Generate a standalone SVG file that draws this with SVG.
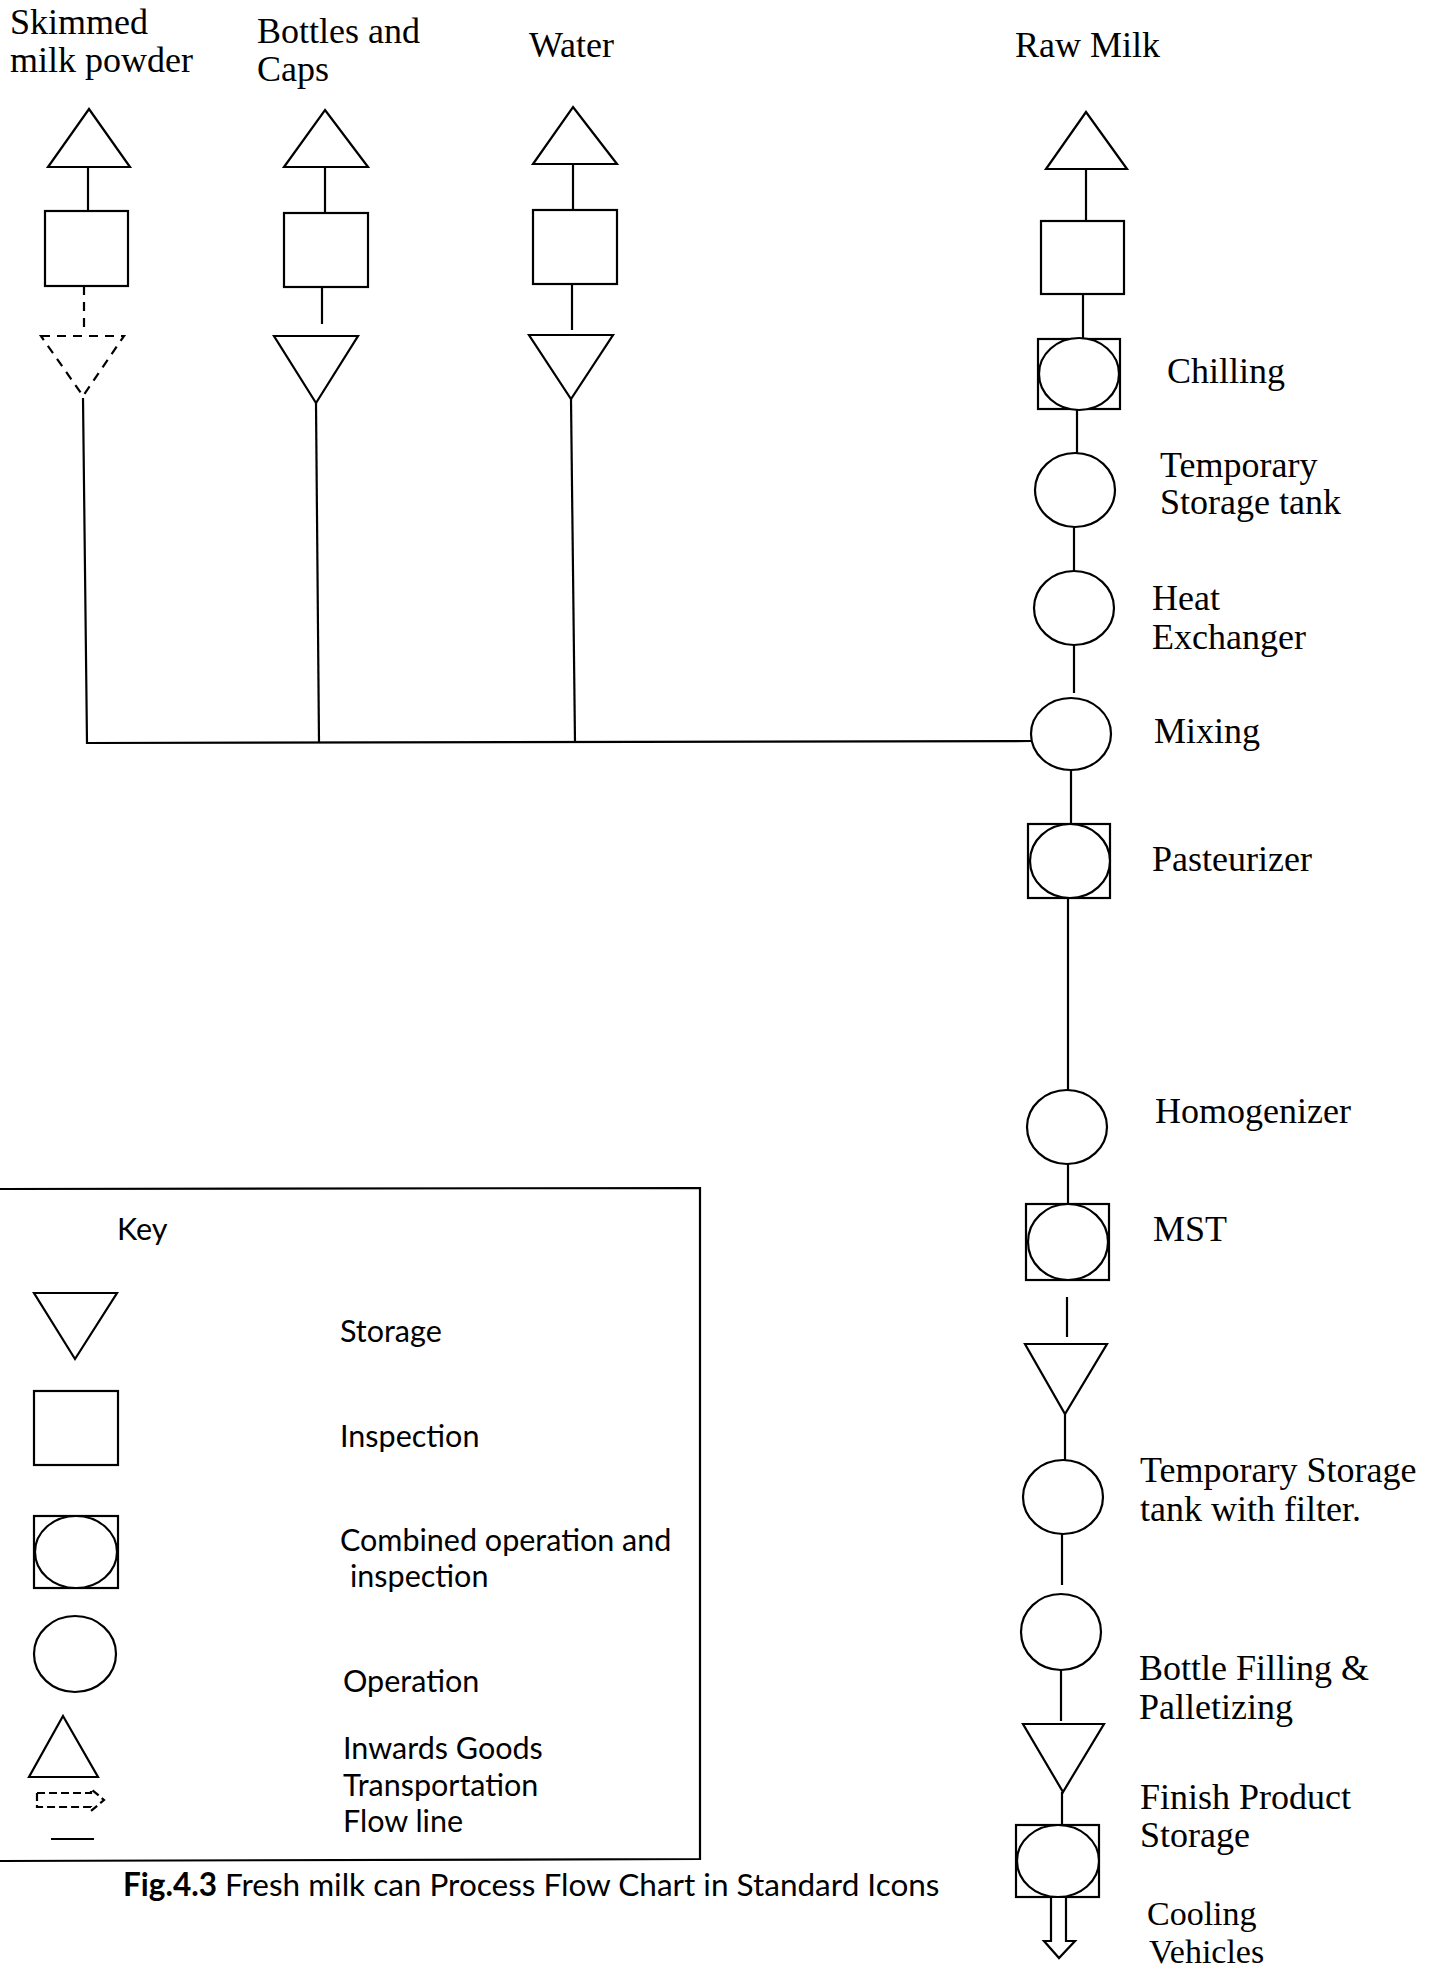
<svg xmlns="http://www.w3.org/2000/svg" width="1444" height="1968" viewBox="0 0 1444 1968">
<style>
.s{fill:#fff;stroke:#000;stroke-width:2.2}
.ln{stroke:#000;stroke-width:2.2;fill:none}
.d{stroke-dasharray:9 7}
.t{font-family:"Liberation Serif","Times New Roman",serif;font-size:36px;fill:#000}
.k{font-family:Lato,"Liberation Sans",sans-serif;font-size:30.5px;fill:#000}
.cap{font-family:Lato,"Liberation Sans",sans-serif;font-size:31.5px;fill:#000}
</style>
<rect width="1444" height="1968" fill="#fff"/>

<g id="connectors">
<line class="ln" x1="88" y1="167" x2="88" y2="211"/>
<line class="ln d" x1="84" y1="286" x2="84" y2="330"/>
<polyline class="ln" points="83,398 87,743 1031,741"/>
<line class="ln" x1="325" y1="167" x2="325" y2="213"/>
<line class="ln" x1="322" y1="287" x2="322" y2="324"/>
<line class="ln" x1="316" y1="403" x2="319" y2="742"/>
<line class="ln" x1="573" y1="164" x2="573" y2="210"/>
<line class="ln" x1="572" y1="284" x2="572" y2="330"/>
<line class="ln" x1="571" y1="399" x2="575" y2="742"/>
<line class="ln" x1="1086" y1="169" x2="1086" y2="221"/>
<line class="ln" x1="1083" y1="294" x2="1083" y2="339"/>
<line class="ln" x1="1077" y1="409" x2="1077" y2="453"/>
<line class="ln" x1="1074" y1="527" x2="1074" y2="572"/>
<line class="ln" x1="1074" y1="645" x2="1074" y2="693"/>
<line class="ln" x1="1071" y1="770" x2="1071" y2="824"/>
<line class="ln" x1="1068" y1="898" x2="1068" y2="1090"/>
<line class="ln" x1="1068" y1="1164" x2="1068" y2="1204"/>
<line class="ln" x1="1067" y1="1297" x2="1067" y2="1337"/>
<line class="ln" x1="1065" y1="1414" x2="1065" y2="1460"/>
<line class="ln" x1="1062" y1="1534" x2="1062" y2="1585"/>
<line class="ln" x1="1061" y1="1670" x2="1061" y2="1721"/>
<line class="ln" x1="1062" y1="1792" x2="1062" y2="1825"/>
</g>

<g id="skimmed">
<text class="t" x="10" y="34">Skimmed</text>
<text class="t" x="10" y="72">milk powder</text>
<polygon class="s" points="89,109 130,167 48,167"/>
<rect class="s" x="45" y="211" width="83" height="75"/>
<polygon class="s d" points="41,336 124,336 83,396"/>
</g>

<g id="bottles">
<text class="t" x="257" y="43">Bottles and</text>
<text class="t" x="257" y="81">Caps</text>
<polygon class="s" points="325,110 368,167 284,167"/>
<rect class="s" x="284" y="213" width="84" height="74"/>
<polygon class="s" points="274,336 358,336 316,403"/>
</g>

<g id="water">
<text class="t" x="529" y="57">Water</text>
<polygon class="s" points="573,107 617,164 533,164"/>
<rect class="s" x="533" y="210" width="84" height="74"/>
<polygon class="s" points="529,335 613,335 571,399"/>
</g>

<g id="rawmilk">
<text class="t" x="1015" y="57">Raw Milk</text>
<polygon class="s" points="1086,112 1127,169 1046,169"/>
<rect class="s" x="1041" y="221" width="83" height="73"/>
</g>

<g id="chilling">
<rect class="s" x="1038" y="339" width="82" height="70"/>
<ellipse class="s" cx="1079" cy="374" rx="40" ry="36"/>
<text class="t" x="1167" y="383">Chilling</text>
</g>

<g id="temp-storage">
<ellipse class="s" cx="1075" cy="490" rx="40" ry="37"/>
<text class="t" x="1160" y="477">Temporary</text>
<text class="t" x="1160" y="514">Storage tank</text>
</g>

<g id="heat-exchanger">
<ellipse class="s" cx="1074" cy="608" rx="40" ry="37"/>
<text class="t" x="1152" y="610">Heat</text>
<text class="t" x="1152" y="649">Exchanger</text>
</g>

<g id="mixing">
<ellipse class="s" cx="1071" cy="734" rx="40" ry="36"/>
<text class="t" x="1154" y="743">Mixing</text>
</g>

<g id="pasteurizer">
<rect class="s" x="1028" y="824" width="82" height="74"/>
<ellipse class="s" cx="1070" cy="861" rx="40" ry="37"/>
<text class="t" x="1152" y="871">Pasteurizer</text>
</g>

<g id="homogenizer">
<ellipse class="s" cx="1067" cy="1127" rx="40" ry="37"/>
<text class="t" x="1155" y="1123">Homogenizer</text>
</g>

<g id="mst">
<rect class="s" x="1026" y="1204" width="83" height="76"/>
<ellipse class="s" cx="1068" cy="1242" rx="40" ry="38"/>
<text class="t" x="1153" y="1241">MST</text>
</g>

<g id="storage-1">
<polygon class="s" points="1025,1344 1107,1344 1065,1414"/>
</g>

<g id="temp-storage-filter">
<ellipse class="s" cx="1063" cy="1497" rx="40" ry="37"/>
<text class="t" x="1140" y="1482">Temporary Storage</text>
<text class="t" x="1140" y="1521">tank with filter.</text>
</g>

<g id="bottle-filling">
<ellipse class="s" cx="1061" cy="1632" rx="40" ry="38"/>
<text class="t" x="1139" y="1680">Bottle Filling &amp;</text>
<text class="t" x="1139" y="1719">Palletizing</text>
</g>

<g id="finish-storage">
<polygon class="s" points="1023,1724 1104,1724 1063,1792"/>
<text class="t" x="1140" y="1809">Finish Product</text>
<text class="t" x="1140" y="1847">Storage</text>
</g>

<g id="cooling">
<rect class="s" x="1016" y="1825" width="83" height="72"/>
<ellipse class="s" cx="1058" cy="1861" rx="41" ry="36"/>
<polygon class="s" points="1051,1897 1066,1897 1066,1941 1075,1941 1059,1958 1044,1941 1051,1941"/>
<text class="t" x="1147" y="1925" style="font-size:34px">Cooling</text>
<text class="t" x="1149" y="1963" style="font-size:34px">Vehicles</text>
</g>

<g id="key">
<polyline class="ln" points="0,1189 700,1188 700,1859 0,1861"/>
<text class="k" x="117" y="1240">Key</text>
<polygon class="s" points="34,1293 117,1293 75,1359"/>
<text class="k" x="340" y="1342">Storage</text>
<rect class="s" x="34" y="1391" width="84" height="74"/>
<text class="k" x="340" y="1447">Inspection</text>
<rect class="s" x="34" y="1516" width="84" height="72"/>
<ellipse class="s" cx="76" cy="1552" rx="41" ry="36"/>
<text class="k" x="340" y="1551">Combined operation and</text>
<text class="k" x="350" y="1587">inspection</text>
<ellipse class="s" cx="75" cy="1654" rx="41" ry="38"/>
<text class="k" x="343" y="1692">Operation</text>
<polygon class="s" points="63,1716 98,1777 29,1777"/>
<text class="k" x="343" y="1759">Inwards Goods</text>
<polygon class="s d" style="stroke-dasharray:8 4" points="37,1793 91,1793 91,1789 104,1800 91,1811 91,1807 37,1807"/>
<text class="k" x="343" y="1796">Transportation</text>
<line class="ln" x1="51" y1="1839" x2="94" y2="1839"/>
<text class="k" x="343" y="1832">Flow line</text>
</g>

<g id="caption">
<text class="cap" x="123" y="1896"><tspan font-weight="bold">Fig.4.3</tspan> Fresh milk can Process Flow Chart in Standard Icons</text>
</g>
</svg>
